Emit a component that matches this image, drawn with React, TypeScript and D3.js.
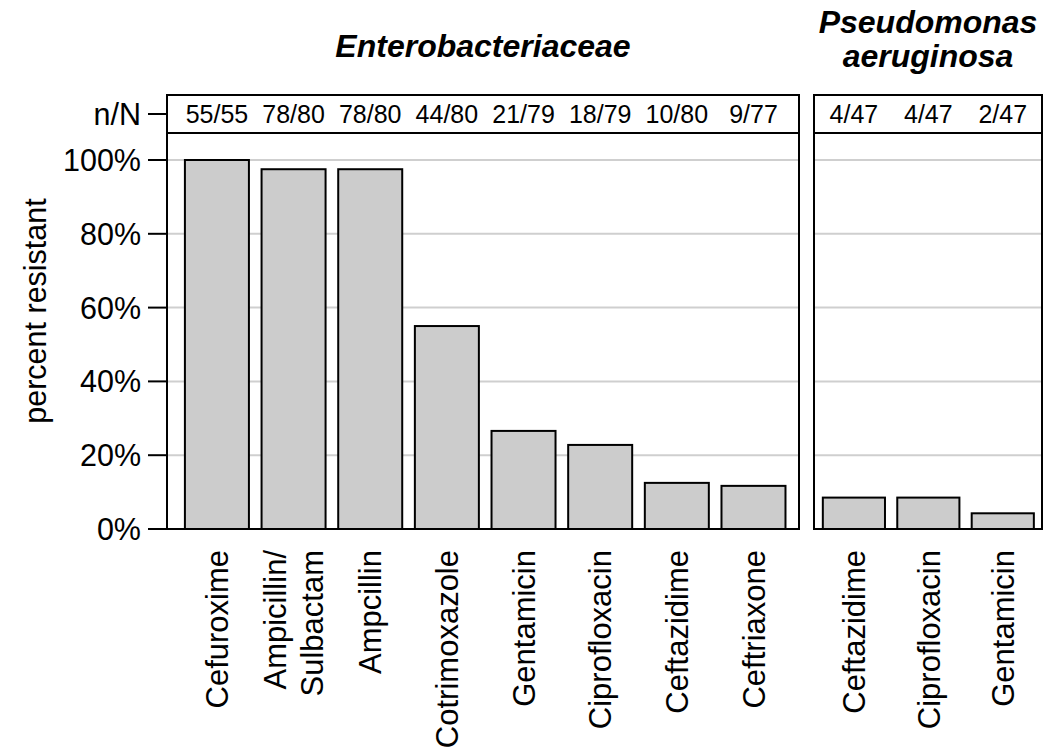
import React from "react";
import * as d3 from "d3";

const enteroDrugs = ["Cefuroxime", "Ampicillin/\nSulbactam", "Ampcillin", "Cotrimoxazole", "Gentamicin", "Ciprofloxacin", "Ceftazidime", "Ceftriaxone"];
const enteroN = [55, 78, 78, 44, 21, 18, 10, 9];
const enteroTotal = [55, 80, 80, 80, 79, 79, 80, 77];

const pseudoDrugs = ["Ceftazidime", "Ciprofloxacin", "Gentamicin"];
const pseudoN = [4, 4, 2];
const pseudoTotal = [47, 47, 47];

const yTicks = [0, 0.2, 0.4, 0.6, 0.8, 1.0];

const FONT = "'Liberation Sans', Arial, Helvetica, sans-serif";

const W = 1045;
const H = 748;
const boxTop = 95;
const stripBottom = 133;
const y0 = 529;
const y100 = 160;

type PanelProps = {
  drugs: string[];
  n: number[];
  total: number[];
  x0: number;
  x1: number;
  paddingOuter: number;
  align: number;
  title: string[];
  titleY: number[];
  yScale: d3.ScaleLinear<number, number>;
};

function Panel({ drugs, n, total, x0, x1, paddingOuter, align, title, titleY, yScale }: PanelProps) {
  const x = d3
    .scaleBand<string>()
    .domain(drugs)
    .range([x0, x1])
    .paddingInner(0.165)
    .paddingOuter(paddingOuter)
    .align(align);
  const cx = (x0 + x1) / 2;
  return (
    <g>
      {yTicks.slice(1).map((t) => (
        <line key={t} x1={x0} x2={x1} y1={yScale(t)} y2={yScale(t)} stroke="#cfcfcf" strokeWidth={2} />
      ))}
      {drugs.map((d, i) => {
        const v = n[i] / total[i];
        return (
          <rect
            key={d}
            x={x(d)!}
            y={yScale(v)}
            width={x.bandwidth()}
            height={yScale(0) - yScale(v)}
            fill="#cccccc"
            stroke="#000"
            strokeWidth={2}
          />
        );
      })}
      <line x1={x0} x2={x1} y1={stripBottom} y2={stripBottom} stroke="#000" strokeWidth={2} />
      {drugs.map((d, i) => (
        <text key={d} x={x(d)! + x.bandwidth() / 2} y={123} textAnchor="middle" fontSize={25} fontFamily={FONT}>
          {`${n[i]}/${total[i]}`}
        </text>
      ))}
      <rect x={x0} y={boxTop} width={x1 - x0} height={y0 - boxTop} fill="none" stroke="#000" strokeWidth={2} />
      {drugs.map((d) => {
        const lines = d.split("\n");
        const c = x(d)! + x.bandwidth() / 2;
        const spacing = 37;
        return (
          <g key={d}>
            {lines.map((ln, j) => {
              const off = (j - (lines.length - 1) / 2) * spacing;
              const px = c + off;
              return (
                <text
                  key={j}
                  transform={`translate(${px},${550}) rotate(-90)`}
                  textAnchor="end"
                  dy="0.36em"
                  fontSize={31}
                  fontFamily={FONT}
                >
                  {ln}
                </text>
              );
            })}
          </g>
        );
      })}
      {title.map((t, j) => (
        <text
          key={j}
          x={cx}
          y={titleY[j]}
          textAnchor="middle"
          fontSize={32}
          fontWeight="bold"
          fontStyle="italic"
          fontFamily={FONT}
        >
          {t}
        </text>
      ))}
    </g>
  );
}

export default function App() {
  const yScale = d3.scaleLinear().domain([0, 1]).range([y0, y100]);
  const fmt = d3.format(".0%");
  const axisX = 167;
  return (
    <svg width={W} height={H} style={{ position: "absolute", left: 0, top: 0, background: "#fff" }}>
      <rect width={W} height={H} fill="#fff" />
      <Panel
        drugs={enteroDrugs}
        n={enteroN}
        total={enteroTotal}
        x0={167}
        x1={799}
        paddingOuter={0.205}
        align={0.57}
        title={["Enterobacteriaceae"]}
        titleY={[57]}
        yScale={yScale}
      />
      <Panel
        drugs={pseudoDrugs}
        n={pseudoN}
        total={pseudoTotal}
        x0={814}
        x1={1042}
        paddingOuter={0.114}
        align={0.52}
        title={["Pseudomonas", "aeruginosa"]}
        titleY={[33, 67]}
        yScale={yScale}
      />
      {yTicks.map((t) => (
        <g key={t}>
          <line x1={148} x2={axisX} y1={yScale(t)} y2={yScale(t)} stroke="#000" strokeWidth={2} />
          <text x={141} y={yScale(t)} dy="0.36em" textAnchor="end" fontSize={30.5} fontFamily={FONT}>
            {fmt(t)}
          </text>
        </g>
      ))}
      <line x1={148} x2={axisX} y1={114} y2={114} stroke="#000" strokeWidth={2} />
      <text x={141} y={114} dy="0.36em" textAnchor="end" fontSize={30.5} fontFamily={FONT}>
        n/N
      </text>
      <text
        transform={`translate(${35},${311}) rotate(-90)`}
        textAnchor="middle"
        dy="0.36em"
        fontSize={30.5}
        fontFamily={FONT}
      >
        percent resistant
      </text>
    </svg>
  );
}
